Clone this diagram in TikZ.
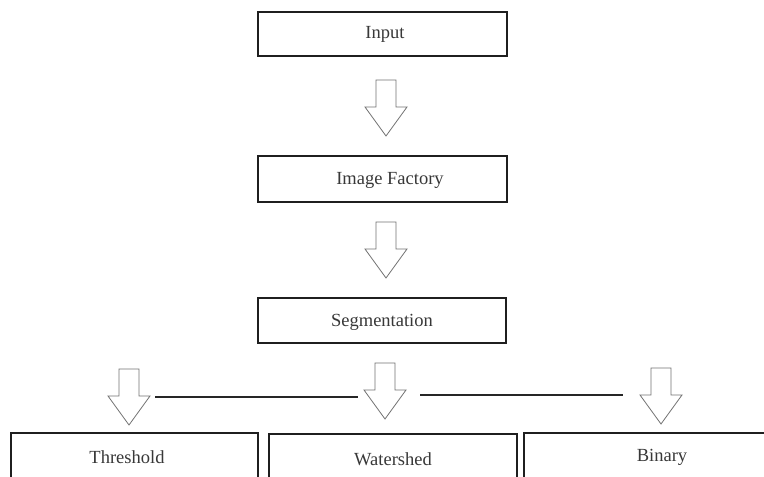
\documentclass[tikz,border=0pt]{standalone}
\usepackage{fontspec}
\setmainfont{Liberation Serif}
\begin{document}
\begin{tikzpicture}[x=1pt,y=-1pt,
  box/.style={draw=black!88,line width=1.6pt,fill=none},
  lbl/.style={font=\fontsize{18.5}{20}\selectfont,text=black!78,inner sep=0pt},
  link/.style={draw=black!85,line width=1.6pt},
  pics/blk/.style={code={
    \draw[draw=black!55,line width=0.8pt,fill=white,line join=miter]
      (-10,0) -- (10,0) -- (10,27) -- (21,27) -- (0,56) -- (-21,27) -- (-10,27) -- cycle;}}]
\clip (0,0) rectangle (764,477);
\fill[white] (0,0) rectangle (764,477);
% boxes
\draw[box] (258,12) rectangle (507,56);
\node[lbl] (input) at (385,34) {Input};
\draw[box] (258,156) rectangle (507,202);
\node[lbl] (factory) at (390,180) {Image Factory};
\draw[box] (258,298) rectangle (506,343);
\node[lbl] (seg) at (382,322) {Segmentation};
\draw[box] (11,433) rectangle (258,495);
\node[lbl] (thr) at (127,457) {Threshold};
\draw[box] (269,434) rectangle (517,495);
\node[lbl] (wat) at (393,459) {Watershed};
\draw[box] (524,433) rectangle (780,495);
\node[lbl] (bin) at (662,457) {Binary};
% block arrows
\pic at (386,80) {blk};
\pic at (386,222) {blk};
\pic at (129,369) {blk};
\pic at (385,363) {blk};
\pic at (661,368) {blk};
% horizontal lines
\coordinate (l1a) at (155,397);
\coordinate (l1b) at (358,397);
\coordinate (l2a) at (420,395);
\coordinate (l2b) at (623,395);
\draw[link] (l1a) -- (l1b);
\draw[link] (l2a) -- (l2b);
\end{tikzpicture}
\end{document}
